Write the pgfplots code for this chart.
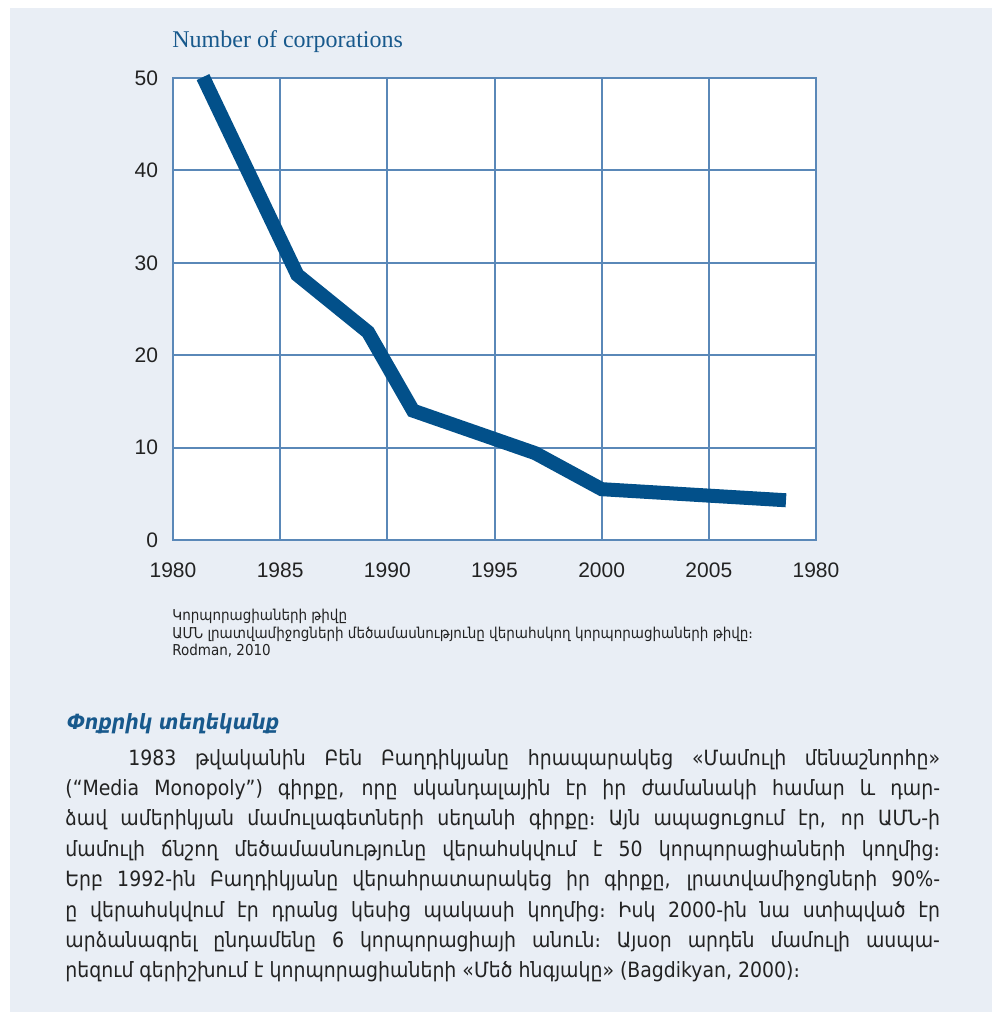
\documentclass[border=0pt]{standalone}
\usepackage{fontspec}
\usepackage{pgfplots}
\pgfplotsset{compat=1.18}
\setmainfont{DejaVu Sans Condensed}
\newfontfamily\armfont{DejaVu Sans Condensed}
\newfontfamily\tickfont{Liberation Sans}
\newfontfamily\titlefont{Liberation Serif}
\definecolor{bgc}{HTML}{E9EEF5}
\definecolor{gridc}{HTML}{5A88B8}
\definecolor{linec}{HTML}{02508A}
\definecolor{titlec}{HTML}{18598C}
\definecolor{txtc}{HTML}{222222}
\begin{document}
\begin{tikzpicture}
\path[use as bounding box] (-86.5pt,270pt) rectangle (409.5pt,-236pt);
\fill[bgc] (-81.5pt,266pt) rectangle (409.5pt,-236pt);
\begin{axis}[
  at={(0pt,0pt)}, anchor=south west,
  scale only axis, width=321.5pt, height=231pt,
  xmin=1980, xmax=2010, ymin=0, ymax=50,
  xtick={1980,1985,1990,1995,2000,2005,2010},
  xticklabels={1980,1985,1990,1995,2000,2005,1980},
  ytick={0,10,20,30,40,50},
  grid=major,
  major grid style={gridc, line width=1pt},
  axis line style={gridc, line width=1pt},
  major tick length=0pt,
  axis background/.style={fill=white},
  tick label style={font=\tickfont\fontsize{10.5}{12}\selectfont, text=txtc},
  /pgf/number format/assume math mode=true,
  xticklabel style={yshift=-8pt},
  yticklabel style={xshift=-4pt},
  clip=false,
]
\addplot[linec, line width=7pt, miter limit=10] coordinates {
(1981.4,50.1) (1985.8,28.7) (1989.1,22.5) (1991.2,14.0) (1996.9,9.4) (2000.0,5.5) (2008.6,4.3)
};
\end{axis}
\node[anchor=base west, inner sep=0, text=titlec, font=\titlefont\fontsize{12}{14}\selectfont] at (-0.5pt,246pt) {Number of corporations};
\node[anchor=base west, inner sep=0, text=txtc] at (-0.5pt,-40.5pt) {\parbox[t]{320pt}{\armfont\fontsize{7.5}{8.5}\selectfont Կորպորացիաների թիվը\\ ԱՄՆ լրատվամիջոցների մեծամասնությունը վերահսկող կորպորացիաների թիվը։\\ Rodman, 2010}};
\node[anchor=base west, inner sep=0, text=titlec] at (-53pt,-94.5pt) {\armfont\bfseries\itshape\fontsize{10.5}{12}\selectfont Փոքրիկ տեղեկանք};
\node[anchor=base west, inner sep=0, text=txtc] at (-54pt,-112.5pt) {\parbox[t]{437.5pt}{\armfont\fontsize{10.5}{15.2}\selectfont\hspace*{31.5pt}1983 թվականին Բեն Բաղդիկյանը հրապարակեց «Մամուլի մենաշնորհը» \linebreak (“Media Monopoly”) գիրքը, որը սկանդալային էր իր ժամանակի համար և դար-\linebreak ձավ ամերիկյան մամուլագետների սեղանի գիրքը։ Այն ապացուցում էր, որ ԱՄՆ-ի \linebreak մամուլի ճնշող մեծամասնությունը վերահսկվում է 50 կորպորացիաների կողմից։ \linebreak Երբ 1992-ին Բաղդիկյանը վերահրատարակեց իր գիրքը, լրատվամիջոցների 90\%-\linebreak ը վերահսկվում էր դրանց կեսից պակասի կողմից։ Իսկ 2000-ին նա ստիպված էր \linebreak արձանագրել ընդամենը 6 կորպորացիայի անուն։ Այսօր արդեն մամուլի ասպա-\linebreak րեզում գերիշխում է կորպորացիաների «Մեծ հնգյակը» (Bagdikyan, 2000)։}};
\end{tikzpicture}
\end{document}
